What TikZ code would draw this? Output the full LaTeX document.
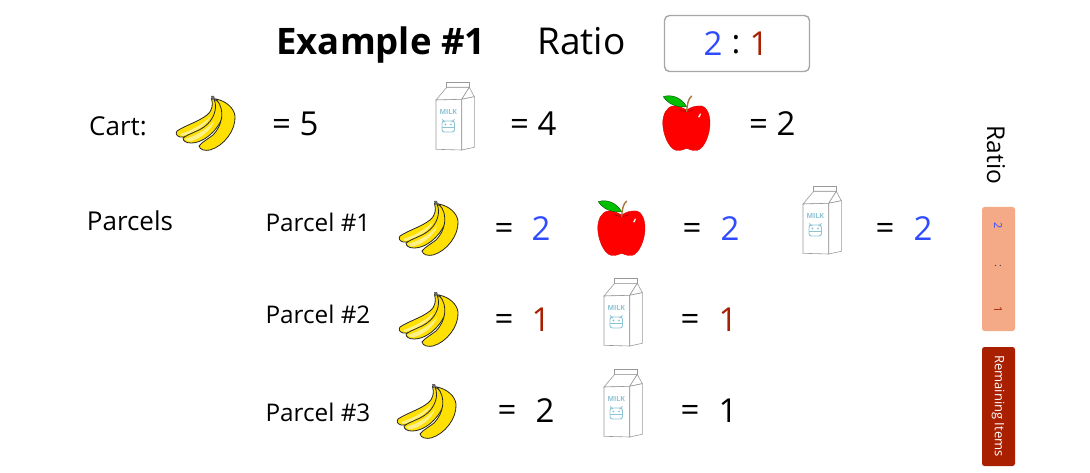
\documentclass[tikz,border=0pt]{standalone}
\usepackage{fontspec}
\setmainfont{Open Sans}
\definecolor{bl}{HTML}{2F4BFF}
\definecolor{rd}{HTML}{A82000}
\definecolor{peach}{HTML}{F4A987}
\definecolor{milkb}{HTML}{8CC4D6}
\definecolor{yel}{HTML}{FFE000}
\definecolor{yel2}{HTML}{FFF08A}
\tikzset{
 x=1pt,y=-1pt,
 big/.style={font=\fontsize{33}{36}\selectfont,inner sep=0pt},
 lab/.style={font=\fontsize{26}{30}\selectfont,inner sep=0pt},
 par/.style={font=\fontsize{24.3}{28}\selectfont,inner sep=0pt},
 banana/.pic={
  \tikzset{every path/.style={draw=black!85,line width=.8pt,fill=yel}}
  \path (35.5,2.5) .. controls (37,8) and (37,14) .. (31,19) .. controls (22,26) and (10,29) .. (1,35) .. controls (-1,38) and (1,40) .. (4,41) .. controls (18,42) and (34,32) .. (42,20) .. controls (43,12) and (41,6) .. (37,1) -- cycle;
  \path[draw=none,fill=yel2] (4,38) .. controls (14,35) and (26,29) .. (34,21) .. controls (32,29) and (16,38) .. (6,40) -- cycle;
  \path (38,3) .. controls (42,12) and (38,24) .. (28,31) .. controls (21,36) and (14,37) .. (7,42) .. controls (7,45) and (10,47) .. (15,47) .. controls (30,47) and (46,30) .. (48,15) .. controls (46,9) and (42,5) .. (38,3) -- cycle;
  \path[draw=none,fill=yel2] (9,43) .. controls (18,40) and (30,35) .. (38,25) .. controls (36,34) and (22,45) .. (12,45.5) -- cycle;
  \path (40,3) .. controls (50,14) and (46,30) .. (37,39) .. controls (32,43) and (26,46) .. (23,50) .. controls (24,54) and (29,55) .. (34,54) .. controls (48,50) and (60,34) .. (59,20) .. controls (58,12) and (50,5) .. (40,3) -- cycle;
  \path[draw=none,fill=black!60] (35,0) -- (38,0) -- (39,3) -- (36,4) -- cycle;
 },
 milk/.pic={
  \tikzset{every path/.style={draw=black!40,line width=.6pt,fill=white}}
  \path (10.7,.7) -- (33.3,.7) -- (33.3,5.3) -- (10.7,5.3) -- cycle;
  \path (10.7,5.3) -- (0,18) -- (25.7,17.3) -- (33.3,5.3) -- cycle;
  \path (33.3,5.3) -- (38.3,14.7) -- (25.7,17.3) -- cycle;
  \path (0,18) -- (25.7,17.3) -- (25.7,68) -- (0,67.3) -- cycle;
  \path (25.7,17.3) -- (38.3,14.7) -- (38.3,65.3) -- (25.7,68) -- cycle;
  \node[draw=none,fill=none,text=milkb,inner sep=0pt,font=\fontsize{7}{8}\selectfont\bfseries] at (12.3,29.7) {MILK};
  \path[draw=milkb,fill=white,line width=.9pt,rounded corners=2.5pt] (6,39) rectangle (18.5,50);
  \path[draw=milkb,line width=.9pt] (6,37.5) -- (9,40) (18.5,37.5) -- (15.5,40) (6,45.5) -- (18.5,45.5);
  \path[draw=milkb,fill=milkb,line width=.1pt] (9.5,42.5) circle (.9) (15,42.5) circle (.9);
 },
 apple/.pic={
  \path[fill=red,draw=red!85!black,line width=.4pt] (23.7,15) .. controls (18,12) and (14,10.5) .. (10.3,11) .. controls (3,12) and (0,20) .. (-.3,28) .. controls (0,40) and (6,54) .. (13.7,55.5) .. controls (18,56) and (21,54) .. (23.7,53.3) .. controls (26,54) and (29,56) .. (33.7,55.5) .. controls (41,54) and (47,40) .. (47,28) .. controls (47,20) and (44,12) .. (38.7,11) .. controls (33,10.5) and (28,12) .. (23.7,15) -- cycle;
  \path[draw=red!55!black,line width=.5pt] (16,14.5) .. controls (20,17) and (27,17) .. (31,14.5);
  \path[draw=none,fill=white] (35,22) -- (37,18.5) -- (38,19) -- (36.5,22.5) -- cycle;
  \path[fill=green!75!black,draw=black!70!green,line width=.4pt] (.3,1.7) .. controls (8,-1) and (18,2) .. (23.7,11.7) .. controls (14,13) and (5,9) .. (.3,1.7) -- cycle;
  \path[draw=brown!90!black,line width=1.4pt] (23.7,17) .. controls (24,10) and (25,4) .. (28.7,.9);
 }
}
\begin{document}
\begin{tikzpicture}
\useasboundingbox (0,0) rectangle (1090,473);
\node[inner sep=0pt,font=\fontsize{36.5}{40}\selectfont\bfseries] (title) at (381,45) {Example \#1};
\node[inner sep=0pt,font=\fontsize{37}{42}\selectfont] (ratio) at (581.5,41) {Ratio};
\node[draw=black!35,line width=1.4pt,fill=white,rounded corners=5pt,minimum width=145pt,minimum height=56pt,inner sep=0pt] (rbox) at (737,43.5) {};
\node[big,text=bl] (r2) at (713,44) {2};
\node[big] (rc) at (736,45) {:};
\node[big,text=rd] (r1) at (759,44) {1};

\node[lab] (cart) at (118,126) {Cart:};
\pic at (176,96) {banana};
\node[big,anchor=west] (c1) at (272,124) {= 5};
\pic at (436,82) {milk};
\node[big,anchor=west] (c2) at (510,124) {= 4};
\pic at (663,95) {apple};
\node[big,anchor=west] (c3) at (749,124) {= 2};

\node[lab] (parcels) at (130,221) {Parcels};

\node[par] (p1) at (318,222) {Parcel \#1};
\pic at (399,201) {banana};
\node[big] (e1) at (504,231) {=};
\node[big,text=bl] (v1) at (541,229) {2};
\pic at (598,200) {apple};
\node[big] (e2) at (692,231) {=};
\node[big,text=bl] (v2) at (730,229) {2};
\pic at (803,186) {milk};
\node[big] (e3) at (885,231) {=};
\node[big,text=bl] (v3) at (923,229) {2};

\node[par] (p2) at (318,314) {Parcel \#2};
\pic at (399,292) {banana};
\node[big] (e4) at (504,322) {=};
\node[big,text=rd] (v4) at (541,320) {1};
\pic at (604,278) {milk};
\node[big] (e5) at (690,322) {=};
\node[big,text=rd] (v5) at (728,320) {1};

\node[par] (p3) at (318,412) {Parcel \#3};
\pic at (397,384) {banana};
\node[big] (e6) at (507,413) {=};
\node[big] (v6) at (545,411) {2};
\pic at (604,369) {milk};
\node[big] (e7) at (690,413) {=};
\node[big] (v7) at (728,411) {1};

\node[rotate=-90,inner sep=0pt,font=\fontsize{24.5}{28}\selectfont] (vr) at (996,155) {Ratio};
\node[fill=peach,rounded corners=2.5pt,minimum width=33pt,minimum height=124pt,inner sep=0pt] (pb) at (998.5,269) {};
\node[rotate=-90,text=bl,inner sep=0pt,font=\fontsize{11}{12}\selectfont] (b2) at (998,226) {2};
\node[rotate=-90,text=black!70,inner sep=0pt,font=\fontsize{11}{12}\selectfont] (bc) at (998,266) {:};
\node[rotate=-90,text=rd,inner sep=0pt,font=\fontsize{11}{12}\selectfont] (b1) at (998,310) {1};
\node[fill=rd,rounded corners=2.5pt,minimum width=33pt,minimum height=119pt,inner sep=0pt] (rb) at (998.5,406.5) {};
\node[rotate=-90,text=white,inner sep=0pt,font=\fontsize{13}{14}\selectfont] (bt) at (998,406) {Remaining Items};
\end{tikzpicture}
\end{document}
